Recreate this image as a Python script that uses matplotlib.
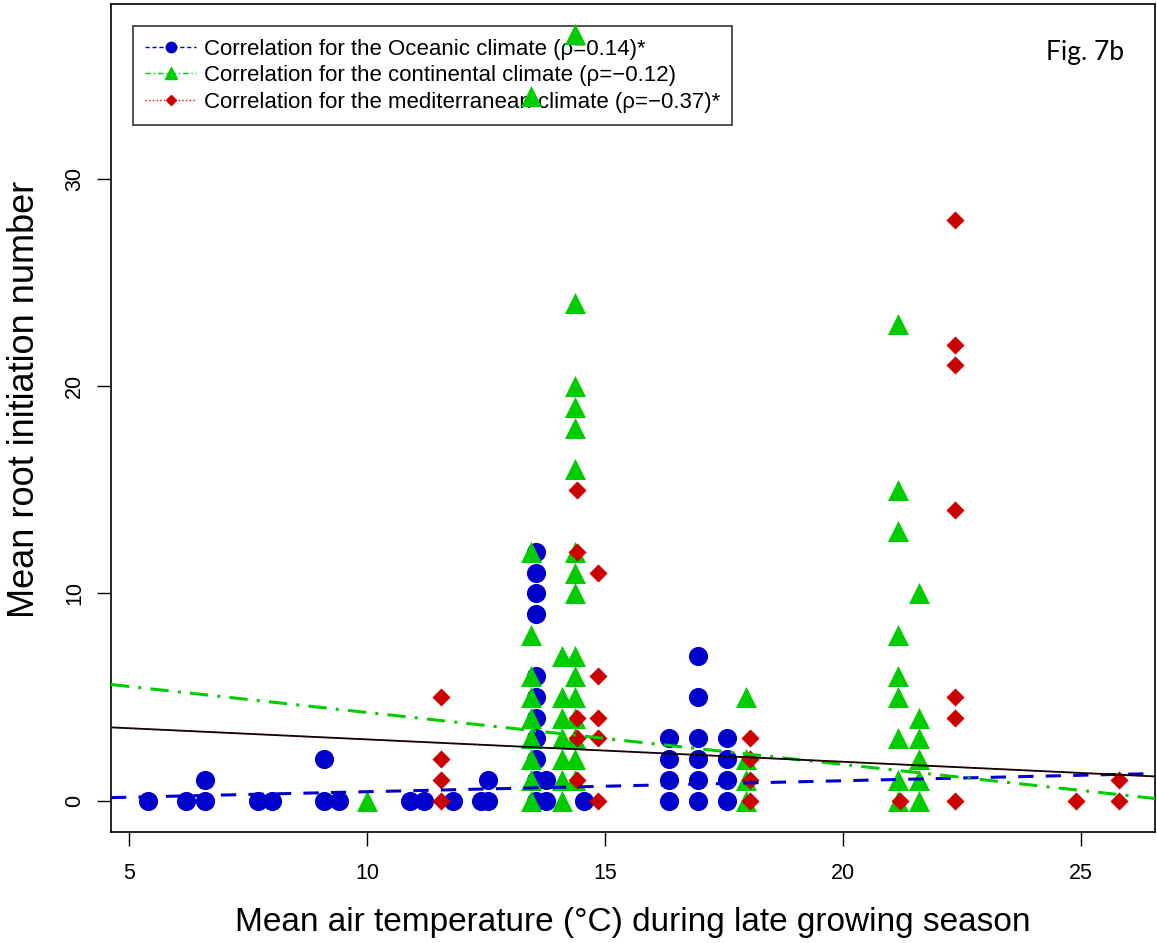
import matplotlib
matplotlib.use("Agg")
import matplotlib.pyplot as plt
from matplotlib.lines import Line2D

plt.rcParams['font.family'] = ['Liberation Sans', 'DejaVu Sans']

# Oceanic climate sites
ocean_temp = [5.4, 6.2, 6.6, 6.6, 7.7, 8.0, 9.1, 9.1, 9.4, 10.9, 11.2, 11.8,
              12.4, 12.55, 12.55,
              13.55, 13.55, 13.55, 13.55, 13.55, 13.55, 13.55, 13.55, 13.55, 13.55, 13.55,
              13.75, 13.75, 14.55,
              16.35, 16.35, 16.35, 16.35,
              16.95, 16.95, 16.95, 16.95, 16.95, 16.95,
              17.55, 17.55, 17.55, 17.55]
ocean_root = [0, 0, 0, 1, 0, 0, 0, 2, 0, 0, 0, 0,
              0, 0, 1,
              0, 1, 2, 3, 4, 5, 6, 9, 10, 11, 12,
              0, 1, 0,
              0, 1, 2, 3,
              0, 1, 2, 3, 5, 7,
              0, 1, 2, 3]

# Continental climate sites
cont_temp = [10.0,
             13.45, 13.45, 13.45, 13.45, 13.45, 13.45, 13.45, 13.45, 13.45, 13.45,
             14.1, 14.1, 14.1, 14.1, 14.1, 14.1, 14.1,
             14.37, 14.37, 14.37, 14.37, 14.37, 14.37, 14.37, 14.37,
             14.37, 14.37, 14.37, 14.37, 14.37, 14.37, 14.37, 14.37,
             17.95, 17.95, 17.95, 17.95,
             21.15, 21.15, 21.15, 21.15, 21.15, 21.15, 21.15, 21.15, 21.15,
             21.6, 21.6, 21.6, 21.6, 21.6, 21.6]
cont_root = [0,
             0, 1, 2, 3, 4, 5, 6, 8, 12, 34,
             0, 1, 2, 3, 4, 5, 7,
             1, 2, 3, 4, 5, 6, 7, 10,
             11, 12, 16, 18, 19, 20, 24, 37,
             0, 1, 2, 5,
             0, 1, 3, 5, 6, 8, 13, 15, 23,
             0, 1, 2, 3, 4, 10]

# Mediterranean climate sites
med_temp = [11.55, 11.55, 11.55, 11.55,
            14.4, 14.4, 14.4, 14.4, 14.4,
            14.85, 14.85, 14.85, 14.85, 14.85,
            18.05, 18.05, 18.05, 18.05,
            21.2,
            22.35, 22.35, 22.35, 22.35, 22.35, 22.35, 22.35,
            24.9, 25.8, 25.8]
med_root = [0, 1, 2, 5,
            1, 3, 4, 12, 15,
            0, 3, 4, 6, 11,
            0, 1, 2, 3,
            0,
            0, 4, 5, 14, 21, 22, 28,
            0, 0, 1]

# regression lines: (intercept, slope)
ocean_fit = (-0.105, 0.053)
cont_fit = (6.76, -0.251)
med_fit = (4.03, -0.108)

legend_labels = ["Correlation for the Oceanic climate (\u03c1=0.14)*",
                 "Correlation for the continental climate (\u03c1=\u22120.12)",
                 "Correlation for the mediterranean climate (\u03c1=\u22120.37)*"]

blue = "#0000CD"
green = "#00CD00"
red = "#CD0000"

fig = plt.figure(figsize=(11.57, 9.43), dpi=100)
ax = fig.add_axes([0.0959, 0.1177, 0.9024, 0.8781])

ax.scatter(ocean_temp, ocean_root, s=190, marker='o', color=blue, linewidths=0, zorder=2)
ax.scatter(cont_temp, cont_root, s=230, marker='^', color=green, linewidths=0, zorder=3)
ax.scatter(med_temp, med_root, s=85, marker='D', color=red, linewidths=0, zorder=4)

ax.axline((0, ocean_fit[0]), slope=ocean_fit[1], color=blue, ls=(0, (5, 4)), lw=2.2, zorder=5)
ax.axline((0, cont_fit[0]), slope=cont_fit[1], color=green, ls=(0, (6, 3, 1, 3)), lw=2.2, zorder=5)
ax.axline((0, med_fit[0]), slope=med_fit[1], color="black", ls='-', lw=1.3, zorder=5)
ax.axline((0, med_fit[0]), slope=med_fit[1], color="#8B0000", ls=(0, (1, 3)), lw=1.0, zorder=6)

ax.set_xlim(4.62, 26.55)
ax.set_ylim(-1.52, 38.45)
ax.set_xticks([5, 10, 15, 20, 25])
ax.set_yticks([0, 10, 20, 30])
ax.tick_params(axis='both', direction='out', length=10, width=1, labelsize=15.5)
ax.tick_params(axis='x', pad=12)
ax.tick_params(axis='y', pad=8.5)
for lab in ax.get_yticklabels():
    lab.set_rotation(90)
    lab.set_va('center')
for sp in ax.spines.values():
    sp.set_linewidth(1.2)

ax.set_xlabel("Mean air temperature (\u00b0C) during late growing season", fontsize=24, labelpad=17)
ax.set_ylabel("Mean root initiation number", fontsize=26)
ax.yaxis.set_label_coords(-0.066, 0.523)

handles = [
    Line2D([], [], color=blue, ls=(0, (3, 2)), lw=1, marker='o', markersize=7.5),
    Line2D([], [], color=green, ls=(0, (4, 2, 1, 2)), lw=1, marker='^', markersize=8.5),
    Line2D([], [], color=red, ls=':', lw=1, marker='D', markersize=5),
]
leg = ax.legend(handles, legend_labels, loc='upper left', bbox_to_anchor=(0.021, 0.973),
                fontsize=16, frameon=True, fancybox=False, edgecolor='black',
                handlelength=2.3, handletextpad=0.35, borderpad=0.55, labelspacing=0.25,
                borderaxespad=0)
leg.get_frame().set_linewidth(1.2)
leg.set_zorder(1)

ax.text(0.933, 0.941, "Fig. 7b", transform=ax.transAxes, fontsize=19,
        family=['Lato', 'DejaVu Sans'], ha='center', va='center')

fig.savefig("out.png", dpi=100)
